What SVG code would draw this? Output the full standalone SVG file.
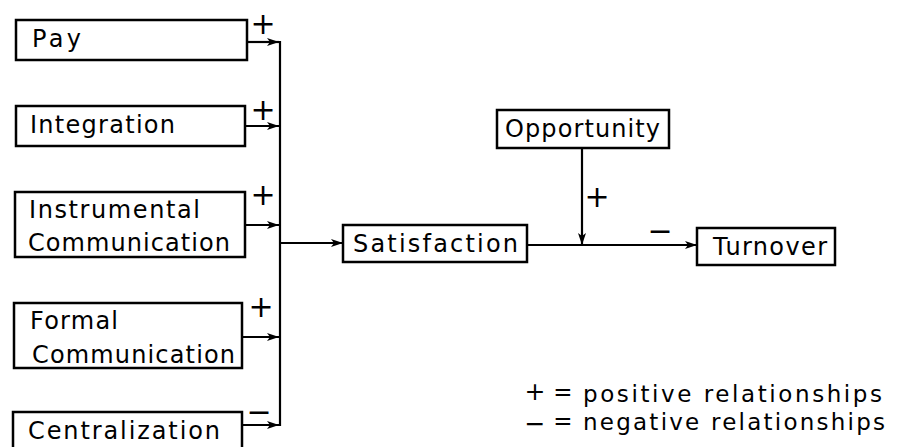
<svg xmlns="http://www.w3.org/2000/svg" width="903" height="447" viewBox="0 0 903 447">
  <defs>
    <marker id="arrow" viewBox="0 0 12 8" refX="12" refY="4" markerWidth="12" markerHeight="8" markerUnits="userSpaceOnUse" orient="auto">
      <path d="M0,0 L12,4 L0,8 L3,4 Z" fill="#000"/>
    </marker>
    <style>
      .box { fill: #fff; stroke: #000; stroke-width: 2.5; }
      .lbl { font-family: "DejaVu Sans", "Liberation Sans", sans-serif; font-size: 24px; fill: #000; }
      .sign { font-family: "DejaVu Sans", "Liberation Sans", sans-serif; font-size: 30px; fill: #000; text-anchor: middle; }
      .key-sign { font-family: "DejaVu Sans", "Liberation Sans", sans-serif; font-size: 25px; fill: #000; text-anchor: middle; }
      .wire { fill: none; stroke: #000; stroke-width: 2.2; }
      .legend { font-family: "DejaVu Sans", "Liberation Sans", sans-serif; font-size: 23px; fill: #000; }
    </style>
  </defs>
  <rect width="903" height="447" fill="#fff"/>

  <!-- input factors -->
  <g id="pay">
    <rect class="box" x="16" y="20" width="231" height="40"/>
    <text class="lbl" x="32" y="47" textLength="49" lengthAdjust="spacing">Pay</text>
  </g>
  <g id="integration">
    <rect class="box" x="16" y="106" width="229" height="40"/>
    <text class="lbl" x="30" y="133" textLength="145" lengthAdjust="spacing">Integration</text>
  </g>
  <g id="instrumental-communication">
    <rect class="box" x="15" y="192" width="230" height="65"/>
    <text class="lbl" x="29" y="218" textLength="171" lengthAdjust="spacing">Instrumental</text>
    <text class="lbl" x="28" y="251" textLength="202" lengthAdjust="spacing">Communication</text>
  </g>
  <g id="formal-communication">
    <rect class="box" x="14" y="303" width="228" height="65"/>
    <text class="lbl" x="30" y="329" textLength="88" lengthAdjust="spacing">Formal</text>
    <text class="lbl" x="32" y="363" textLength="203" lengthAdjust="spacing">Communication</text>
  </g>
  <g id="centralization">
    <rect class="box" x="13" y="412" width="229" height="50"/>
    <text class="lbl" x="28" y="439" textLength="192" lengthAdjust="spacing">Centralization</text>
  </g>

  <!-- outcomes -->
  <g id="satisfaction">
    <rect class="box" x="343" y="225" width="184" height="37"/>
    <text class="lbl" x="353" y="252" textLength="165" lengthAdjust="spacing">Satisfaction</text>
  </g>
  <g id="opportunity">
    <rect class="box" x="497" y="110" width="172" height="38"/>
    <text class="lbl" x="505" y="137" textLength="155" lengthAdjust="spacing">Opportunity</text>
  </g>
  <g id="turnover">
    <rect class="box" x="697" y="228" width="138" height="37"/>
    <text class="lbl" x="713" y="255" textLength="114" lengthAdjust="spacing">Turnover</text>
  </g>

  <!-- connectors -->
  <g id="connectors">
    <line class="wire" x1="247" y1="42" x2="279" y2="42" marker-end="url(#arrow)"/>
    <line class="wire" x1="245" y1="126" x2="279" y2="126" marker-end="url(#arrow)"/>
    <line class="wire" x1="245" y1="225" x2="279" y2="225" marker-end="url(#arrow)"/>
    <line class="wire" x1="242" y1="337" x2="279" y2="337" marker-end="url(#arrow)"/>
    <line class="wire" x1="242" y1="425" x2="279" y2="425" marker-end="url(#arrow)"/>
    <line class="wire" x1="280" y1="41" x2="280" y2="426"/>
    <line class="wire" x1="280" y1="243" x2="343" y2="243" marker-end="url(#arrow)"/>
    <line class="wire" x1="527" y1="245" x2="697" y2="245" marker-end="url(#arrow)"/>
    <line class="wire" x1="582" y1="148" x2="582" y2="245" marker-end="url(#arrow)"/>

    <!-- relationship signs -->
    <text class="sign" x="263" y="34">+</text>
    <text class="sign" x="263" y="120">+</text>
    <text class="sign" x="263" y="205">+</text>
    <text class="sign" x="261" y="317">+</text>
    <text class="sign" x="259" y="422">−</text>
    <text class="sign" x="597" y="207">+</text>
    <text class="sign" x="660" y="241">−</text>
  </g>

  <!-- key -->
  <g id="legend">
    <text class="key-sign" x="535" y="400">+</text>
    <text class="legend" x="563" y="400" text-anchor="middle">=</text>
    <text class="legend" x="583" y="402" textLength="299" lengthAdjust="spacing">positive relationships</text>
    <text class="key-sign" x="535" y="432">−</text>
    <text class="legend" x="563" y="429" text-anchor="middle">=</text>
    <text class="legend" x="583" y="430" textLength="302" lengthAdjust="spacing">negative relationships</text>
  </g>
</svg>
